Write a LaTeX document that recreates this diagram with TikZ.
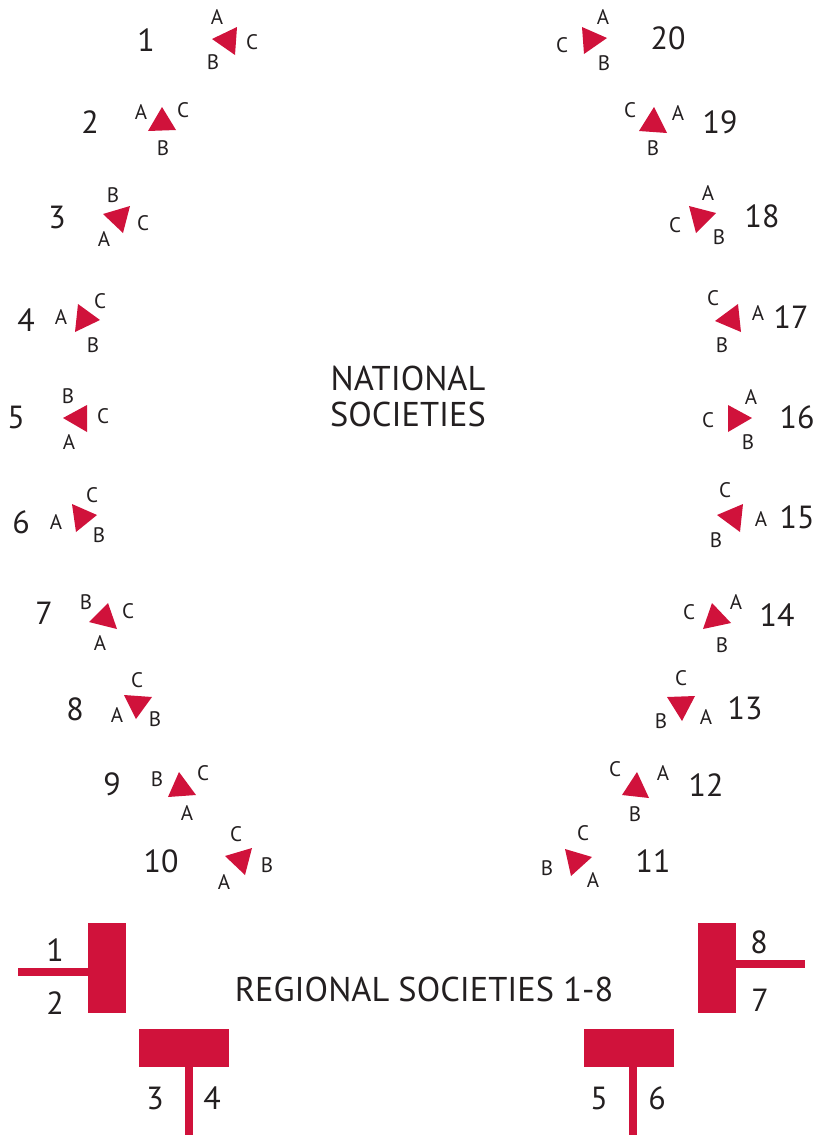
\documentclass[tikz,border=0pt]{standalone}
\usepackage{fontspec}
\usepackage{xcolor}
\usepackage{tikz}
\setmainfont{PT Sans}
\definecolor{socred}{HTML}{D0123B}
\definecolor{inkgray}{HTML}{231F20}

\tikzset{
  num/.style={inner sep=0pt, text=inkgray, font=\fontsize{32}{36}\selectfont},
  lab/.style={inner sep=0pt, text=inkgray, font=\fontsize{21}{24}\selectfont},
  title/.style={inner sep=0pt, text=inkgray, align=center, font=\fontsize{34.4}{36}\selectfont},
  tri/.style={fill=socred}
}

\begin{document}
\begin{tikzpicture}[x=1pt, y=-1pt]
    \useasboundingbox (0,0) rectangle (814,1135);

    % National societies, left side
    \node[num] (n1) at (146,40) {1};
    \fill[tri] (212,39) -- (237,27) -- (235,55) -- cycle;
    \node[lab] (a1) at (217,17) {A}; \node[lab] (b1) at (213,62) {B}; \node[lab] (c1) at (252,42) {C};

    \node[num] (n2) at (90,122) {2};
    \fill[tri] (162,107) -- (148,131) -- (176,130) -- cycle;
    \node[lab] (a2) at (141,112) {A}; \node[lab] (b2) at (163,148) {B}; \node[lab] (c2) at (183,110) {C};

    \node[num] (n3) at (57,217) {3};
    \fill[tri] (103,214) -- (130,206) -- (123,233) -- cycle;
    \node[lab] (a3) at (104,239) {A}; \node[lab] (b3) at (113,195) {B}; \node[lab] (c3) at (143,223) {C};

    \node[num] (n4) at (26,320) {4};
    \fill[tri] (78,304) -- (100,320) -- (75,332) -- cycle;
    \node[lab] (a4) at (61,317) {A}; \node[lab] (b4) at (93,345) {B}; \node[lab] (c4) at (100,301) {C};

    \node[num] (n5) at (16,417) {5};
    \fill[tri] (63,418) -- (87,405) -- (87,432) -- cycle;
    \node[lab] (a5) at (69,442) {A}; \node[lab] (b5) at (68,396) {B}; \node[lab] (c5) at (103,416) {C};

    \node[num] (n6) at (21,522) {6};
    \fill[tri] (72,504) -- (97,515) -- (76,532) -- cycle;
    \node[lab] (a6) at (56,522) {A}; \node[lab] (b6) at (99,535) {B}; \node[lab] (c6) at (92,495) {C};

    \node[num] (n7) at (44,613) {7};
    \fill[tri] (108,603) -- (89,622) -- (117,629) -- cycle;
    \node[lab] (a7) at (100,643) {A}; \node[lab] (b7) at (86,602) {B}; \node[lab] (c7) at (128,611) {C};

    \node[num] (n8) at (75,709) {8};
    \fill[tri] (124,695) -- (152,697) -- (136,719) -- cycle;
    \node[lab] (a8) at (117,715) {A}; \node[lab] (b8) at (155,719) {B}; \node[lab] (c8) at (137,680) {C};

    \node[num] (n9) at (112,784) {9};
    \fill[tri] (179,772) -- (168,797) -- (196,795) -- cycle;
    \node[lab] (a9) at (187,813) {A}; \node[lab] (b9) at (157,779) {B}; \node[lab] (c9) at (203,773) {C};

    \node[num] (n10) at (161,861) {10};
    \fill[tri] (225,856) -- (252,848) -- (245,875) -- cycle;
    \node[lab] (a10) at (224,882) {A}; \node[lab] (b10) at (267,865) {B}; \node[lab] (c10) at (236,834) {C};

    % National societies, right side
    \node[num] (n11) at (653,861) {11};
    \fill[tri] (565,849) -- (592,857) -- (571,876) -- cycle;
    \node[lab] (a11) at (593,880) {A}; \node[lab] (b11) at (547,868) {B}; \node[lab] (c11) at (583,833) {C};

    \node[num] (n12) at (706,785) {12};
    \fill[tri] (637,772) -- (622,795) -- (649,798) -- cycle;
    \node[lab] (a12) at (663,773) {A}; \node[lab] (b12) at (635,814) {B}; \node[lab] (c12) at (615,769) {C};

    \node[num] (n13) at (745,708) {13};
    \fill[tri] (667,697) -- (695,696) -- (682,721) -- cycle;
    \node[lab] (a13) at (706,717) {A}; \node[lab] (b13) at (661,721) {B}; \node[lab] (c13) at (681,678) {C};

    \node[num] (n14) at (777,615) {14};
    \fill[tri] (712,603) -- (703,629) -- (731,623) -- cycle;
    \node[lab] (a14) at (736,602) {A}; \node[lab] (b14) at (722,645) {B}; \node[lab] (c14) at (689,612) {C};

    \node[num] (n15) at (797,517) {15};
    \fill[tri] (717,515) -- (743,504) -- (740,532) -- cycle;
    \node[lab] (a15) at (761,519) {A}; \node[lab] (b15) at (716,540) {B}; \node[lab] (c15) at (725,490) {C};

    \node[num] (n16) at (797,417) {16};
    \fill[tri] (728,405) -- (752,418) -- (728,432) -- cycle;
    \node[lab] (a16) at (751,397) {A}; \node[lab] (b16) at (748,442) {B}; \node[lab] (c16) at (708,420) {C};

    \node[num] (n17) at (791,317) {17};
    \fill[tri] (715,321) -- (738,304) -- (741,332) -- cycle;
    \node[lab] (a17) at (758,313) {A}; \node[lab] (b17) at (722,345) {B}; \node[lab] (c17) at (713,298) {C};

    \node[num] (n18) at (762,216) {18};
    \fill[tri] (689,206) -- (716,213) -- (696,233) -- cycle;
    \node[lab] (a18) at (708,193) {A}; \node[lab] (b18) at (719,237) {B}; \node[lab] (c18) at (675,225) {C};

    \node[num] (n19) at (720,122) {19};
    \fill[tri] (654,107) -- (639,131) -- (667,133) -- cycle;
    \node[lab] (a19) at (678,113) {A}; \node[lab] (b19) at (653,148) {B}; \node[lab] (c19) at (630,110) {C};

    \node[num] (n20) at (668,38) {20};
    \fill[tri] (582,27) -- (607,38) -- (584,54) -- cycle;
    \node[lab] (a20) at (603,17) {A}; \node[lab] (b20) at (604,63) {B}; \node[lab] (c20) at (562,45) {C};

    \node[title] (national) at (408,396) {NATIONAL\\SOCIETIES};

    % Regional societies
    \node[title] (regional) at (424,989) {REGIONAL SOCIETIES 1-8};

    \fill[socred] (88,923) rectangle (126,1013);
    \fill[socred] (18,968) rectangle (88,976);
    \node[num] (r1) at (55,950) {1};
    \node[num] (r2) at (55,1003) {2};

    \fill[socred] (139,1029) rectangle (229,1067);
    \fill[socred] (185,1067) rectangle (193,1135);
    \node[num] (r3) at (155,1098) {3};
    \node[num] (r4) at (212,1098) {4};

    \fill[socred] (584,1029) rectangle (674,1067);
    \fill[socred] (629,1067) rectangle (637,1135);
    \node[num] (r5) at (599,1098) {5};
    \node[num] (r6) at (657,1098) {6};

    \fill[socred] (698,923) rectangle (736,1013);
    \fill[socred] (736,960) rectangle (805,968);
    \node[num] (r7) at (760,1000) {7};
    \node[num] (r8) at (759,942) {8};
\end{tikzpicture}
\end{document}
